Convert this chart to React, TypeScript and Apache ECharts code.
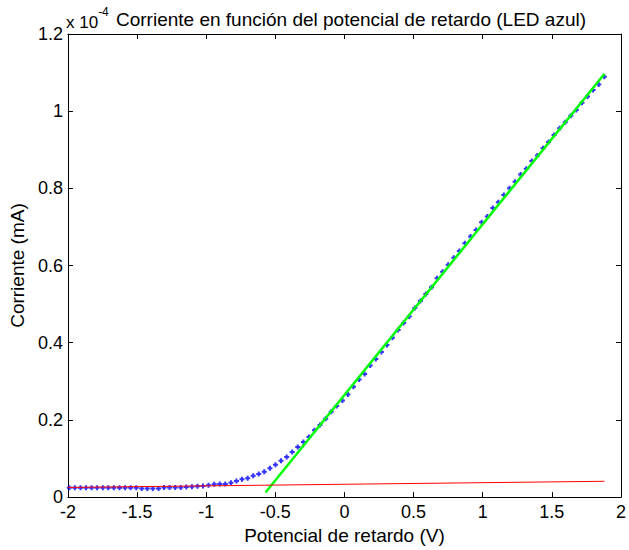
import React, { useEffect, useRef } from "react";
import * as echarts from "echarts";

// Measured data (x in V, y in units of 1e-4 mA)
const voltage = [
  -1.990, -1.950, -1.909, -1.869, -1.829, -1.789, -1.748, -1.708, -1.668, -1.627,
  -1.587, -1.547, -1.506, -1.466, -1.426, -1.386, -1.345, -1.305, -1.265, -1.224,
  -1.184, -1.144, -1.103, -1.063, -1.023, -0.983, -0.942, -0.902, -0.862, -0.821,
  -0.781, -0.741, -0.700, -0.660, -0.620, -0.580, -0.539, -0.499, -0.459, -0.418,
  -0.378, -0.338, -0.297, -0.257, -0.217, -0.177, -0.136, -0.096, -0.056, -0.015,
  0.025, 0.065, 0.106, 0.146, 0.186, 0.227, 0.267, 0.307, 0.347, 0.388,
  0.428, 0.468, 0.509, 0.549, 0.589, 0.630, 0.670, 0.710, 0.750, 0.791,
  0.831, 0.871, 0.912, 0.952, 0.992, 1.033, 1.073, 1.113, 1.153, 1.194,
  1.234, 1.274, 1.315, 1.355, 1.395, 1.436, 1.476, 1.516, 1.556, 1.597,
  1.637, 1.677, 1.718, 1.758, 1.798, 1.839, 1.879,
];
const current = [
  0.024, 0.024, 0.024, 0.024, 0.024, 0.024, 0.024, 0.024, 0.024, 0.024,
  0.024, 0.024, 0.024, 0.022, 0.022, 0.022, 0.022, 0.025, 0.025, 0.025,
  0.025, 0.026, 0.027, 0.028, 0.029, 0.031, 0.033, 0.034, 0.034, 0.037,
  0.042, 0.046, 0.049, 0.055, 0.060, 0.066, 0.075, 0.084, 0.094, 0.104,
  0.117, 0.130, 0.143, 0.156, 0.173, 0.187, 0.203, 0.221, 0.236, 0.250,
  0.266, 0.286, 0.305, 0.319, 0.341, 0.358, 0.376, 0.394, 0.413, 0.433,
  0.451, 0.468, 0.490, 0.508, 0.526, 0.544, 0.567, 0.584, 0.602, 0.620,
  0.638, 0.658, 0.675, 0.692, 0.712, 0.727, 0.749, 0.764, 0.783, 0.800,
  0.817, 0.836, 0.851, 0.871, 0.885, 0.904, 0.920, 0.938, 0.956, 0.971,
  0.988, 1.003, 1.022, 1.038, 1.055, 1.069, 1.089,
];
const baseFitX = [-2.0, 1.88];
const baseFitY = [0.025, 0.041];
const slopeFitX = [-0.571, 1.881];
const slopeFitY = [0.012, 1.097];

const titleText = "Corriente en función del potencial de retardo (LED azul)";
const xName = "Potencial de retardo (V)";
const yName = "Corriente (mA)";
const FONT = "'Liberation Sans', Arial, sans-serif";

const zip = (xs: number[], ys: number[]) => xs.map((x, i) => [x, ys[i]]);

export default function App() {
  const ref = useRef<HTMLDivElement>(null);
  useEffect(() => {
    if (!ref.current) return;
    const chart = echarts.init(ref.current, null, { renderer: "svg" });
    const axisLine = { show: true, onZero: false, lineStyle: { color: "#000", width: 1 } };
    const tick = { show: true, inside: true, length: 5, lineStyle: { color: "#000" } };
    chart.setOption({
      animation: false,
      backgroundColor: "#fff",
      title: {
        text: titleText,
        left: 346,
        top: 5,
        textAlign: "center",
        textStyle: { fontFamily: FONT, fontSize: 19, fontWeight: "normal", color: "#000" },
      },
      graphic: [
        {
          type: "text",
          left: 66,
          top: 6,
          style: {
            text: "{a|x 10}{s|-4}",
            rich: {
              a: { fontFamily: FONT, fontSize: 17, color: "#000", verticalAlign: "bottom", padding: [8, 0, 0, 0] },
              s: { fontFamily: FONT, fontSize: 12, color: "#000", verticalAlign: "top" },
            },
          },
        },
      ],
      grid: { left: 66, top: 34, width: 560, height: 468, containLabel: false },
      xAxis: [
        {
          type: "value",
          min: -2,
          max: 2,
          interval: 0.5,
          name: xName,
          nameLocation: "middle",
          nameGap: 27,
          nameTextStyle: { fontFamily: FONT, fontSize: 19, color: "#000" },
          axisLine,
          axisTick: tick,
          axisLabel: { fontFamily: FONT, fontSize: 18, lineHeight: 14, color: "#000", margin: 8 },
          splitLine: { show: false },
        },
        {
          type: "value",
          position: "top",
          min: -2,
          max: 2,
          interval: 0.5,
          axisLine,
          axisTick: tick,
          axisLabel: { show: false },
          splitLine: { show: false },
        },
      ],
      yAxis: [
        {
          type: "value",
          min: 0,
          max: 1.2,
          interval: 0.2,
          name: yName,
          nameLocation: "middle",
          nameGap: 34,
          nameTextStyle: { fontFamily: FONT, fontSize: 19, color: "#000" },
          axisLine,
          axisTick: tick,
          axisLabel: { fontFamily: FONT, fontSize: 18, lineHeight: 14, color: "#000", margin: 5 },
          splitLine: { show: false },
        },
        {
          type: "value",
          position: "right",
          min: 0,
          max: 1.2,
          interval: 0.2,
          axisLine,
          axisTick: tick,
          axisLabel: { show: false },
          splitLine: { show: false },
        },
      ],
      series: [
        {
          type: "scatter",
          data: zip(voltage, current),
          symbol: "path://M1.5,0H3.5V1.5H5V3.5H3.5V5H1.5V3.5H0V1.5H1.5Z",
          symbolSize: 5,
          itemStyle: { color: "#0000ff" },
          z: 2,
        },
        {
          type: "line",
          data: zip(slopeFitX, slopeFitY),
          symbol: "none",
          lineStyle: { color: "#00ff00", width: 2.5 },
          z: 3,
        },
        {
          type: "line",
          data: zip(baseFitX, baseFitY),
          symbol: "none",
          lineStyle: { color: "#ff0000", width: 1 },
          z: 4,
        },
      ],
    });
    return () => chart.dispose();
  }, []);
  return <div ref={ref} style={{ position: "absolute", left: 0, top: 0, width: 629, height: 550 }} />;
}
